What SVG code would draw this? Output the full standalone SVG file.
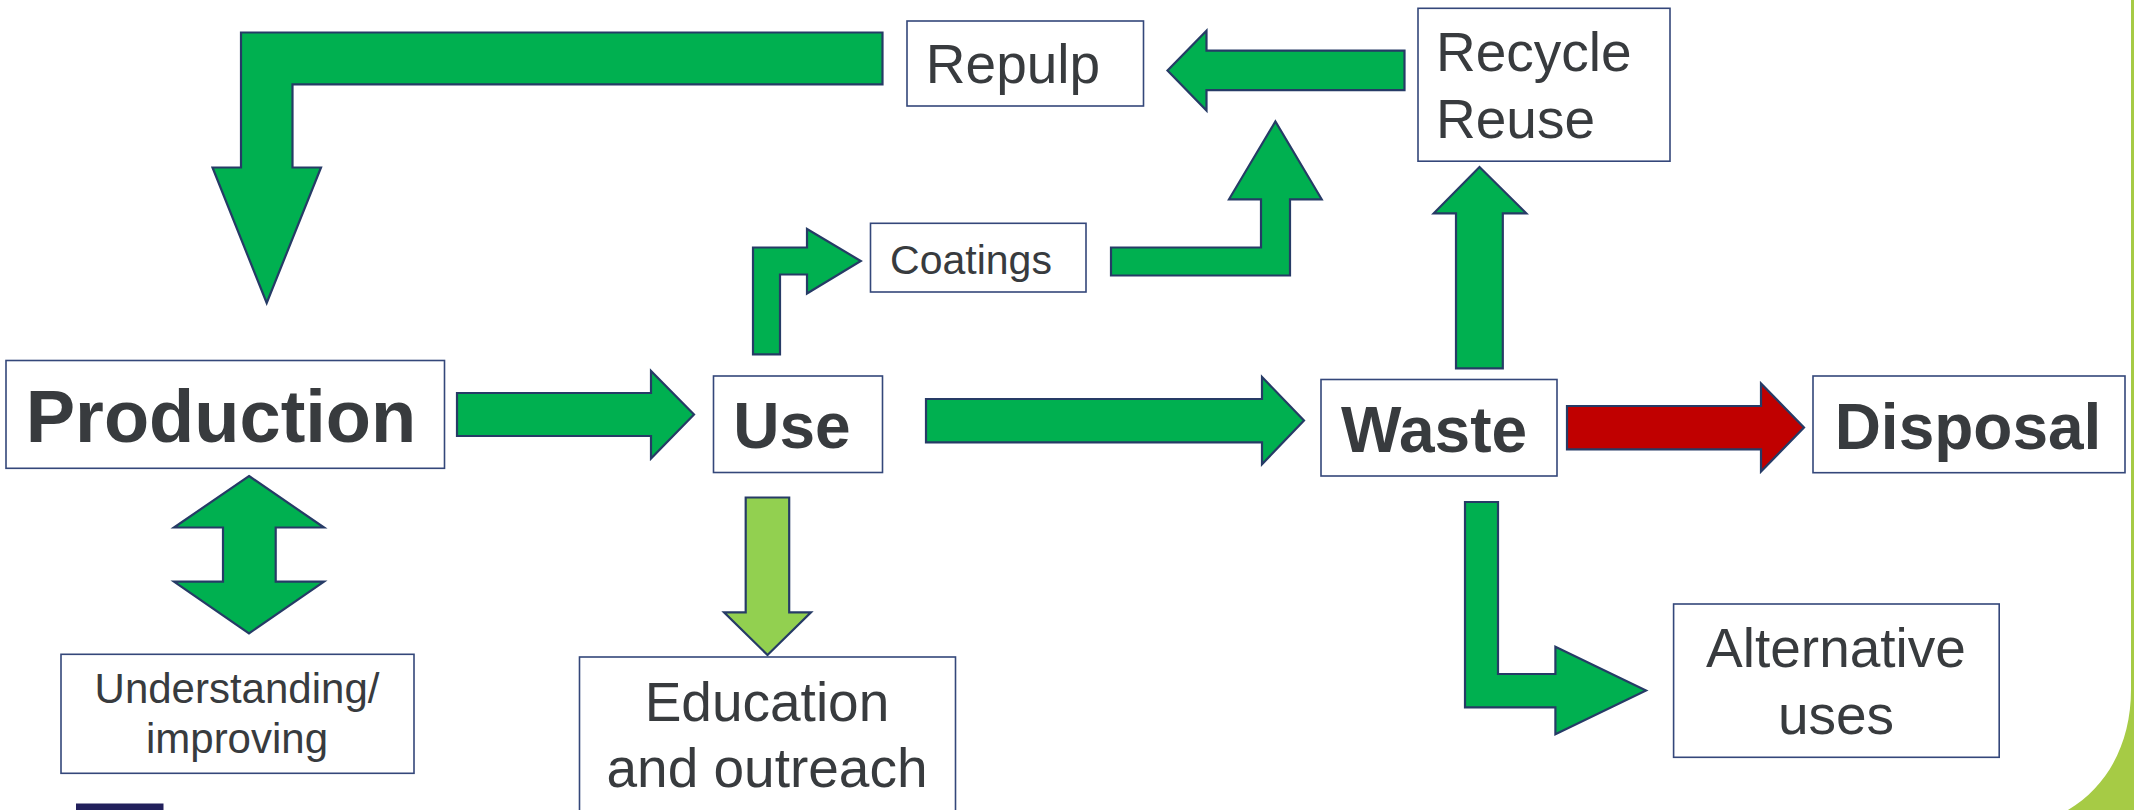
<svg xmlns="http://www.w3.org/2000/svg" width="2134" height="810" viewBox="0 0 2134 810">
<style>
.box{fill:#fff;stroke:#34477A;stroke-width:1.6}
.arr{fill:#00B050;stroke:#263B66;stroke-width:2.2;stroke-linejoin:miter}
.red{fill:#C00000}
.lg{fill:#92D050}
text{font-family:"Liberation Sans",Arial,sans-serif;fill:#383B3E;text-anchor:middle}
.b{font-weight:bold}
</style>
<rect width="2134" height="810" fill="#fff"/>
<path d="M2131 0 L2131 690 C2131 740 2110 785 2068 810 L2134 810 L2134 0 Z" fill="#A6CB45"/>
<rect x="76" y="803.5" width="87.5" height="7" fill="#22205C"/>
<g id="connectors">
<polygon class="arr" points="882.5,32.5 241,32.5 241,167.5 212.5,167.5 266.7,303 321,167.5 292.5,167.5 292.5,84.3 882.5,84.3"/>
<polygon class="arr" points="1404.5,50.7 1206.5,50.7 1206.5,30.7 1167.5,70.5 1206.5,110.5 1206.5,90.2 1404.5,90.2"/>
<polygon class="arr" points="1111,247.5 1261,247.5 1261,199.3 1229,199.3 1275.4,121.5 1321.7,199.3 1290,199.3 1290,275.5 1111,275.5"/>
<polygon class="arr" points="1456,368.3 1456,213.3 1433.7,213.3 1479.5,167 1526.3,213.3 1502.8,213.3 1502.8,368.3"/>
<polygon class="arr" points="753,354.3 753,247.5 807,247.5 807,229 860.8,261 807,293.5 807,274.5 780,274.5 780,354.3"/>
<polygon class="arr" points="457,393 651,393 651,371 694,414.5 651,458.5 651,436 457,436"/>
<polygon class="arr" points="926,399 1262,399 1262,377 1304,420.5 1262,464.3 1262,442.3 926,442.3"/>
<polygon class="arr red" points="1567,406 1761,406 1761,383.5 1804,427.5 1761,471.5 1761,449.3 1567,449.3"/>
<polygon class="arr" points="249,476 324,527.5 275.7,527.5 275.7,581.7 324,581.7 249,633.3 174,581.7 223,581.7 223,527.5 174,527.5"/>
<polygon class="arr lg" points="745.7,497.5 789.2,497.5 789.2,612.3 811,612.3 767.5,655 724,612.3 745.7,612.3"/>
<polygon class="arr" points="1465,502 1498,502 1498,674 1555.4,674 1555.4,646.7 1646,690.5 1555.4,734.3 1555.4,707.3 1465,707.3"/>
</g>
<g id="repulp"><rect class="box" x="907" y="21" width="236.5" height="85"/><text x="1013" y="83" font-size="55">Repulp</text></g>
<g id="recycle"><rect class="box" x="1418" y="8.3" width="252" height="152.9"/><text x="1436" y="71" font-size="55" style="text-anchor:start">Recycle</text><text x="1436" y="137.7" font-size="55" style="text-anchor:start">Reuse</text></g>
<g id="coatings"><rect class="box" x="870.5" y="223.3" width="215.5" height="68.7"/><text x="971" y="274" font-size="41">Coatings</text></g>
<g id="production"><rect class="box" x="6" y="360.5" width="438.5" height="107.8"/><text class="b" x="221" y="441.7" font-size="74">Production</text></g>
<g id="use"><rect class="box" x="713.5" y="376" width="169" height="96.5"/><text class="b" x="792" y="448.3" font-size="64">Use</text></g>
<g id="waste"><rect class="box" x="1321" y="379.5" width="236" height="96.5"/><text class="b" x="1434" y="451.7" font-size="64">Waste</text></g>
<g id="disposal"><rect class="box" x="1813" y="376" width="312" height="96.7"/><text class="b" x="1968" y="449.3" font-size="64">Disposal</text></g>
<g id="understanding"><rect class="box" x="61" y="654.3" width="353" height="119"/><text x="237" y="703.3" font-size="42">Understanding/</text><text x="237" y="753.3" font-size="42">improving</text></g>
<g id="education"><rect class="box" x="579.5" y="657" width="376" height="156"/><text x="767" y="720.5" font-size="55">Education</text><text x="767" y="787" font-size="55">and outreach</text></g>
<g id="alternative"><rect class="box" x="1673.6" y="604" width="325.6" height="153.3"/><text x="1836" y="666.7" font-size="55">Alternative</text><text x="1836" y="734" font-size="55">uses</text></g>
</svg>
